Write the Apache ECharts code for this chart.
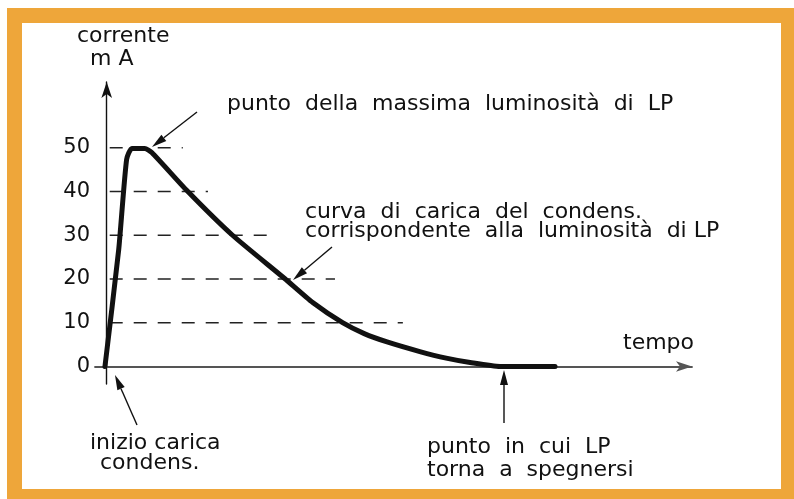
<!DOCTYPE html>
<html>
<head>
<meta charset="utf-8">
<script src="https://cdn.jsdelivr.net/npm/echarts@6/dist/echarts.min.js"></script>
<style>
html,body{margin:0;padding:0;background:#fff;}
#c{width:794px;height:499px;}
</style>
</head>
<body>
<div id="c"></div>
<script>
// time (arbitrary units) and current (mA)
var timeVals = [-0.3, 2.05, 3.4, 4.3, 6.5, 7.7, 13.7, 21.4, 30.4, 35.2, 40.3, 44.0, 47.9, 53.5, 58.0, 62.1, 67.2, 76.6];
var currVals = [0, 26.7, 47.3, 49.8, 49.8, 48.9, 40.2, 30.1, 20.1, 14.6, 10.0, 7.5, 5.6, 3.4, 1.9, 0.9, 0, 0];
// dashed reference levels and how far each dash line reaches along time
var guideLevels = [50, 40, 30, 20, 10];
var guideEnds = [13.0, 17.3, 28.4, 39.0, 50.6];
var yTickLabels = [0, 10, 20, 30, 40, 50];

var FONT = '"DejaVu Sans", sans-serif';
var INK = '#111';

function txt(x, y, s, size) {
  return {type: 'text', x: x, y: y, z: 20,
    style: {text: s, font: 'normal ' + (size || 22) + 'px ' + FONT, fill: INK, verticalAlign: 'middle', align: 'left'}};
}
function arrow(x1, y1, x2, y2) {
  var dx = x2 - x1, dy = y2 - y1, L = Math.sqrt(dx * dx + dy * dy);
  var ux = dx / L, uy = dy / L, hl = 15, hw = 4;
  var bx = x2 - ux * hl, by = y2 - uy * hl;
  return {type: 'group', z: 20, children: [
    {type: 'line', shape: {x1: x1, y1: y1, x2: bx, y2: by}, style: {stroke: INK, lineWidth: 1.4}},
    {type: 'polygon', shape: {points: [[x2, y2], [bx - uy * hw, by + ux * hw], [bx + uy * hw, by - ux * hw]]}, style: {fill: INK}}
  ]};
}

var series = [];
guideLevels.forEach(function (lv, i) {
  series.push({type: 'line', data: [[0, lv], [guideEnds[i], lv]], symbol: 'none', silent: true,
    lineStyle: {color: '#222', width: 1.5, type: [13, 11], dashOffset: -3}, z: 3});
});
series.push({type: 'line', data: timeVals.map(function (t, i) { return [t, currVals[i]]; }),
  symbol: 'none', smooth: 0.2,
  lineStyle: {color: INK, width: 5, cap: 'round', join: 'round'}, z: 5});

var chart = echarts.init(document.getElementById('c'), null, {renderer: 'canvas'});
chart.setOption({
  animation: false,
  backgroundColor: '#fff',
  grid: {left: 95, right: 102, top: 82, bottom: 115, containLabel: false},
  xAxis: {type: 'value', min: -2, max: 100,
    axisLine: {show: true, symbol: ['none', 'arrow'], symbolSize: [8, 16], symbolOffset: [0, 0],
      lineStyle: {color: '#555', width: 1.8}},
    axisTick: {show: false}, axisLabel: {show: false}, splitLine: {show: false}},
  yAxis: {type: 'value', min: -4, max: 65,
    axisLine: {show: true, onZero: true, symbol: ['none', 'arrow'], symbolSize: [8, 16],
      lineStyle: {color: INK, width: 1.4}},
    axisTick: {show: false}, splitLine: {show: false},
    axisLabel: {show: true, customValues: yTickLabels, margin: 5, fontSize: 21, color: INK, fontFamily: FONT}},
  series: series,
  graphic: [
    {type: 'rect', z: -10, shape: {x: 7, y: 8, width: 787, height: 491}, style: {fill: '#eea63a'}},
    {type: 'rect', z: -9, shape: {x: 22, y: 23, width: 759, height: 466}, style: {fill: '#fff'}},
    txt(77, 36, 'corrente'),
    txt(90, 59, 'm A'),
    txt(227, 104, 'punto  della  massima  luminosità  di  LP'),
    txt(305, 212, 'curva  di  carica  del  condens.'),
    txt(305, 231, 'corrispondente  alla  luminosità  di LP'),
    txt(623, 343, 'tempo'),
    txt(90, 443, 'inizio carica'),
    txt(100, 463, 'condens.'),
    txt(427, 447, 'punto  in  cui  LP'),
    txt(427, 470, 'torna  a  spegnersi'),
    arrow(197, 112, 152, 147),
    arrow(332, 247, 293, 280),
    arrow(137, 425, 115, 375),
    arrow(504, 423, 504, 370)
  ]
});
</script>
</body>
</html>
